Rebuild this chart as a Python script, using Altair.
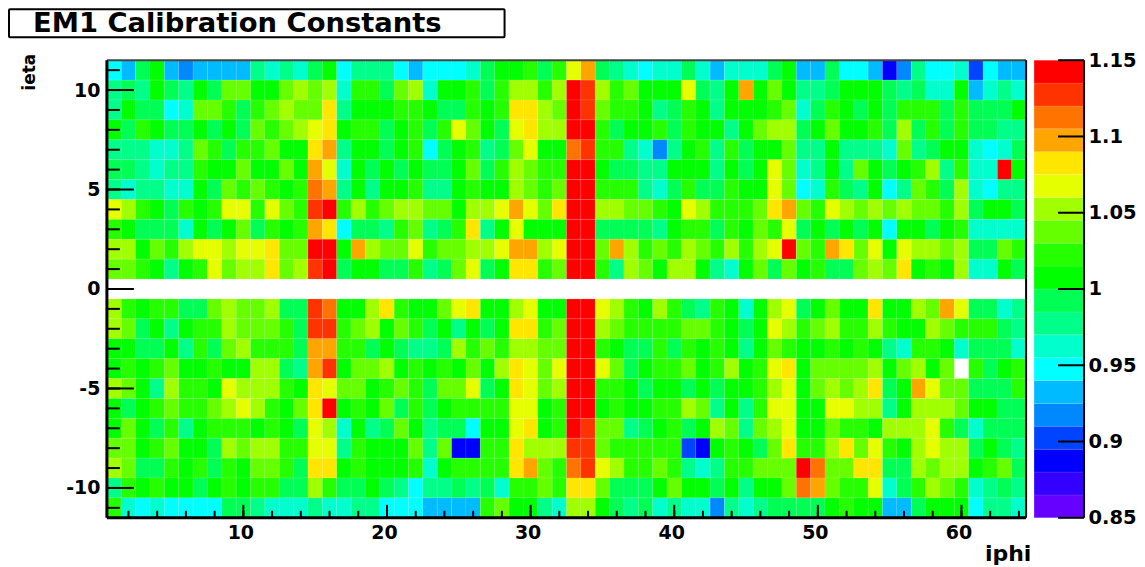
import altair as alt
import pandas as pd

# Colour band read for each cell (one character per iphi 1..64); "_" = empty cell
ROWS = {
    11: "659A545555" "87879A6888" "65" "66679AAB9B" "EG98767797" "5" "7779A55966" "5248667365" "5",
    10: "898A98A9CC" "AACDCD7BB9" "CD" "7AAB9BDDBD" "JIDBCAAAE9" "8" "AGACA889AA" "A98977A578" "7",
    9: "8A9967CCB9" "BCDCCF8AAA" "BB" "A99BABFFDC" "JICBBA89BA" "8" "AAABC79BA9" "A9BBB9B999" "A",
    8: "A9BA99A9A9" "CBCDEFABB9" "AB" "9BECA9EFDD" "JJB9AAB9BA" "A" "8ACDD9ACAA" "B9D9B9B998" "8",
    7: "888778CB9B" "BCAAFG8AA9" "AB" "69AB89CEAA" "HIBB8748AB" "8" "B9AAC88A88" "87C89AA767" "9",
    6: "998788BAAC" "AACAGE7A9A" "9A" "99AC9BDCBB" "JJA9988AAA" "8" "A9AEC78A8C" "A9ABD8B77J" "A",
    5: "878877A9CB" "CBABHG8A8A" "AB" "88ABAADCBC" "JJBBB879B9" "9" "BAAEC67B98" "A68CB9D768" "8",
    4: "EDBA9BABEE" "BECBIJBDBC" "DD" "CCADDEGECF" "JJDDCCBAED" "B" "BBCFGCBEDC" "DCDCCBD9AA" "9",
    3: "BA9997A9AC" "9BABGF6998" "BC" "89BF8AEAAA" "JJ99998ABB" "9" "BACBE9A9A9" "A6AA9AB777" "7",
    2: "DDACBDEEDE" "EFCCJJAGDC" "CE" "BCCDDEGGDE" "JJCGDBCBDC" "B" "DBDEJCBGFC" "EAEDDCD99C" "B",
    1: "CCBA8ABECD" "DFCDIJ9AA9" "9B" "89CE9AFFBC" "JJB8DCADDA" "8" "7AC9CAB99C" "DCFABAD77A" "9",
    -1: "DBABB99CDC" "CD99IHAADF" "BA" "ACEFAADEAA" "JJEDBADB98" "B" "A7ADE9ACAA" "FAADCGE997" "8",
    -2: "DC9A8ABBDC" "CCB9IIBCDA" "CB" "9A8A9AFFBC" "JJDCBBBBCC" "B" "A9AEDBCDBB" "DBAADCBBB9" "8",
    -3: "AA99A8B9CD" "BBB9GGBB9A" "98" "89DBCBDDCC" "JJBA99B9BA" "B" "A8ACBAABAB" "A87BBA7999" "7",
    -4: "ABABCAABAA" "DD98GIACCD" "AB" "ABACADFECE" "JJEC9ABBCA" "B" "DABEFACCCC" "DACDAC_B9A" "B",
    -5: "DCA8DBBAED" "DDBAFECCAB" "CB" "9CCE9AFECD" "JJBBA9AA9A" "9" "AABDEACDCD" "F9AGECC999" "B",
    -6: "A9ABCBBCDE" "DBACFJABAC" "9B" "9ABBBBEEAB" "JJABAABBDC" "8" "A8BEEAAEED" "D8ADDDCAA9" "9",
    -7: "ACA9B8ABBB" "ABA9ED7A89" "CA" "8996AAEFAB" "JICC89AB9A" "D" "C8CDEAACBB" "ADDDEB9799" "9",
    -8: "CCABCAA9DC" "DDBBEE8BAA" "AC" "8C22BBFDDD" "IICBBBBB32" "A" "BA9CFBBDFC" "EBADEDD9A9" "8",
    -9: "DC99BAB9BA" "CCB9FFABAA" "AB" "7ABBBBFGCB" "HIEDBBCB87" "8" "BBCCCJHCCF" "F99DCDDABC" "9",
    -10: "8BABAA9ABA" "BB99DB99A9" "86" "889897BBCB" "FFC999ACAA" "9" "A8AACHGCBB" "E79BDCB789" "8",
    -11: "B767666699" "8777877886" "66" "5555BCAA87" "DDA9897877" "4" "8789999ABA" "A559AAA688" "7",
}
BAND_CODES = "0123456789ABCDEFGHIJ"
BAND_VALUES = [0.8575, 0.8725, 0.8875, 0.9025, 0.9175, 0.9325, 0.9475, 0.9625, 0.9775, 0.9925,
               1.0075, 1.0225, 1.0375, 1.0525, 1.0675, 1.0825, 1.0975, 1.1125, 1.1275, 1.1425]
PALETTE = ["#6600ff", "#3300ff", "#0000ff", "#0044ff", "#0088ff", "#00bbff", "#00ffff", "#00ffcc",
           "#00ff88", "#00ff55", "#00ff00", "#26ff00", "#66ff00", "#a0ff00", "#e6ff00", "#ffe600",
           "#ffa500", "#ff7300", "#ff3300", "#ff0000"]
BAND_EDGES = [0.85, 0.865, 0.88, 0.895, 0.91, 0.925, 0.94, 0.955, 0.97, 0.985, 1.0,
              1.015, 1.03, 1.045, 1.06, 1.075, 1.09, 1.105, 1.12, 1.135, 1.15]
X_MAJOR = [10, 20, 30, 40, 50, 60]
X_MINOR = list(range(2, 65, 2))
Y_MAJOR = [-10, -5, 0, 5, 10]
Y_MINOR = list(range(-11, 12))
Z_TICKS = [0.85, 0.9, 0.95, 1.0, 1.05, 1.1, 1.15]

W, H = 920, 458
FONT = "DejaVu Sans"
one = pd.DataFrame({"a": [0]})

cells = pd.DataFrame(
    [
        {"ieta": eta, "lo": i + 0.5, "hi": i + 1.5, "elo": eta - 0.5, "ehi": eta + 0.5,
         "c": BAND_VALUES[BAND_CODES.index(ch)]}
        for eta, row in ROWS.items()
        for i, ch in enumerate(row)
        if ch != "_"
    ]
)
color_scale = alt.Scale(type="quantize", domain=[0.85, 1.15], range=PALETTE)
xs = alt.Scale(domain=[0.5, 64.5], nice=False, zero=False)
ys = alt.Scale(domain=[-11.5, 11.5], nice=False, zero=False)


def axis(values, fmt, pad, size=19, **kw):
    return alt.Axis(values=values, format=fmt, ticks=False, domain=False, grid=False, title=None,
                    labelFont=FONT, labelFontWeight="bold", labelFontSize=size, labelColor="black",
                    labelPadding=pad, labelOverlap=False, **kw)


x_axis = axis(X_MAJOR, "d", 6, labelOffset=-3)
y_axis = axis(Y_MAJOR, "d", 7, labelExpr="datum.value < 0 ? '-' + abs(datum.value) : '' + datum.value")
z_axis = axis(Z_TICKS, "~g", 4, size=19.5, orient="right")

heat = alt.Chart(cells).mark_rect(stroke="white", strokeWidth=0.5, strokeOpacity=0.2).encode(
    x=alt.X("lo:Q", scale=xs, axis=x_axis),
    x2="hi:Q",
    y=alt.Y("elo:Q", scale=ys, axis=y_axis),
    y2="ehi:Q",
    color=alt.Color("c:Q", scale=color_scale, legend=None),
)


def xticks(vals, length):
    return alt.Chart(pd.DataFrame({"v": vals})).mark_rule(color="black", strokeWidth=2).encode(
        x=alt.X("v:Q", scale=xs, axis=x_axis), y=alt.value(H), y2=alt.value(H - length))


def yticks(vals, length):
    return alt.Chart(pd.DataFrame({"v": vals})).mark_rule(color="black", strokeWidth=2).encode(
        y=alt.Y("v:Q", scale=ys, axis=y_axis), x=alt.value(0), x2=alt.value(length))


def frame(x1, x2, y1, y2, width, col="black"):
    return alt.Chart(one).mark_rule(color=col, strokeWidth=width).encode(
        x=alt.value(x1), x2=alt.value(x2), y=alt.value(y1), y2=alt.value(y2))


def label(text, x, y, size, **kw):
    return alt.Chart(one).mark_text(font=FONT, fontWeight="bold", fontSize=size, color="black", **kw).encode(
        x=alt.value(x), y=alt.value(y), text=alt.value(text))


title_box = alt.Chart(one).mark_rect(fill="white", stroke="black", strokeWidth=2, cornerRadius=1).encode(
    x=alt.value(-98), x2=alt.value(398), y=alt.value(-51), y2=alt.value(-23))

main = alt.layer(
    heat,
    xticks(X_MINOR, 7), xticks(X_MAJOR, 13),
    yticks(Y_MINOR, 13), yticks(Y_MAJOR, 27),
    frame(0, W, 0, 0, 2, "#444444"),
    frame(W, W, 0, H, 2),
    frame(0, 0, 0, H, 3),
    frame(0, W, H, H, 3),
    title_box,
    label("EM1 Calibration Constants", -74, -36.5, 27.4, align="left", baseline="middle"),
    label("ieta", -77, 12, 17, align="center", baseline="middle", angle=270),
    label("iphi", 902, 494, 22, align="center", baseline="middle"),
).properties(width=W, height=H)

zs = alt.Scale(domain=[0.85, 1.15], nice=False, zero=False)
bands = pd.DataFrame({"lo": BAND_EDGES[:-1], "hi": BAND_EDGES[1:], "c": BAND_VALUES})
bar = alt.Chart(bands).mark_rect(stroke="white", strokeWidth=0.5, strokeOpacity=0.2).encode(
    x=alt.value(0), x2=alt.value(50),
    y=alt.Y("lo:Q", scale=zs, axis=z_axis),
    y2="hi:Q",
    color=alt.Color("c:Q", scale=color_scale, legend=None),
)
bar_ticks = alt.Chart(pd.DataFrame({"v": Z_TICKS})).mark_rule(color="black", strokeWidth=2).encode(
    y=alt.Y("v:Q", scale=zs, axis=z_axis), x=alt.value(24), x2=alt.value(50))
side = alt.layer(bar, bar_ticks, frame(50, 50, 0, H, 2)).properties(width=50, height=H)

chart = alt.hconcat(main, side, spacing=1).resolve_scale(color="independent", x="independent", y="independent").properties(
    padding=0
).configure_view(stroke=None)

chart.save("out.html", embed_options={"renderer": "svg", "actions": False})
